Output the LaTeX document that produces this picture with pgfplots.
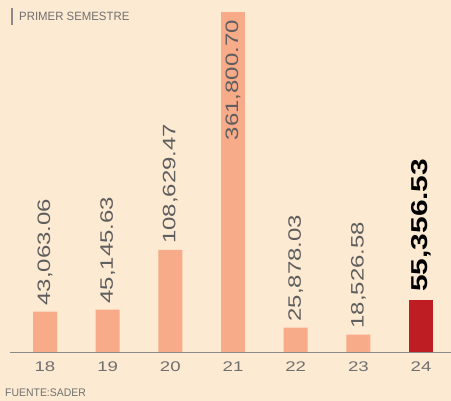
\documentclass[border=0pt]{standalone}
\usepackage{pgfplots}
\pgfplotsset{compat=1.18}
\usepackage{fontspec}
\setmainfont{Liberation Sans}
\newfontfamily\lblfont[FakeStretch=1.33]{Liberation Sans}
\newfontfamily\bigfont[FakeStretch=1.3]{Liberation Sans}
\newfontfamily\smallfont[FakeStretch=0.95]{Liberation Sans}
\definecolor{bgc}{HTML}{FDEAD3}
\definecolor{barc}{HTML}{F8AB89}
\definecolor{redc}{HTML}{BE1E23}
\definecolor{txt}{HTML}{5E5E5E}
\definecolor{tick}{HTML}{707070}
\definecolor{axc}{HTML}{8A8A8A}
\begin{document}
\begin{tikzpicture}
\useasboundingbox (0,0) rectangle (451pt,401pt);
\fill[bgc] (0,0) rectangle (451pt,401pt);
\begin{axis}[
    at={(10pt,49pt)}, anchor=south west,
    scale only axis, width=441pt, height=352pt,
    xmin=-0.5585, xmax=6.478, ymin=0, ymax=374572,
    hide y axis, axis x line*=bottom,
    x axis line style={-, axc, line width=0.9pt},
    xtick={0,...,6}, xticklabels={18,19,20,21,22,23,24},
    major tick length=0pt,
    xticklabel style={font=\lblfont\fontsize{14}{16}\selectfont, text=tick, yshift=-6pt},
    ybar, bar width=24pt, bar shift=0pt,
    clip=false,
    point meta=explicit symbolic,
]
\addplot[fill=barc, draw=none, nodes near coords,
    every node near coord/.append style={rotate=90, anchor=west, inner xsep=6pt,
      font=\lblfont\fontsize{18}{20}\selectfont, text=txt}]
  table[meta=l] {
x y l
0 43063.06 43,063.06
1 45145.63 45,145.63
2 108629.47 108,629.47
4 25878.03 25,878.03
5 18526.58 18,526.58
};
\addplot[fill=barc, draw=none, nodes near coords,
    every node near coord/.append style={rotate=90, anchor=east, inner xsep=8pt,
      font=\lblfont\fontsize{18}{20}\selectfont, text=txt}]
  table[meta=l] {
x y l
3 361800.70 361,800.70
};
\addplot[fill=redc, draw=none, nodes near coords,
    every node near coord/.append style={rotate=90, anchor=west, inner xsep=8pt,
      font=\bigfont\bfseries\fontsize{23}{26}\selectfont, text=black}]
  table[meta=l] {
x y l
6 55356.53 55,356.53
};
\end{axis}
\draw[axc, line width=1.6pt] (12pt,376pt) -- (12pt,393pt);
\node[anchor=west, text=tick, font=\smallfont\fontsize{12}{14}\selectfont, inner sep=0pt] at (19pt,385pt) {PRIMER SEMESTRE};
\node[anchor=west, text=tick, font=\smallfont\fontsize{11}{13}\selectfont, inner sep=0pt] at (5pt,8pt) {FUENTE:SADER};
\end{tikzpicture}
\end{document}
